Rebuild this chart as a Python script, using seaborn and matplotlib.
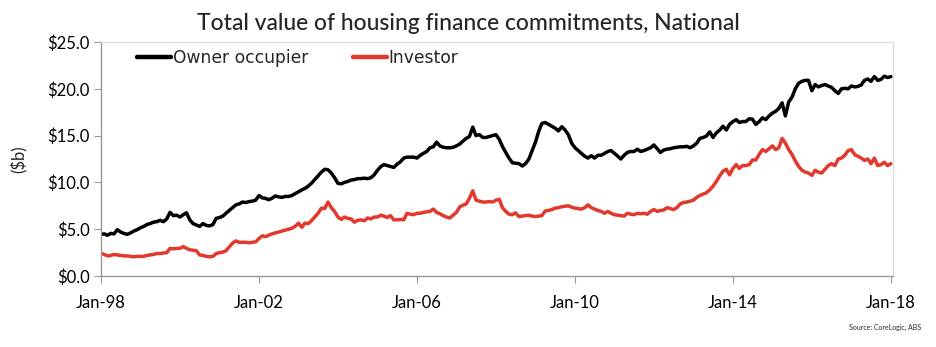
import numpy as np
import pandas as pd
import matplotlib
matplotlib.use("Agg")
import matplotlib.pyplot as plt
import seaborn as sns

# Monthly value of housing finance commitments ($b), Jan-1998 to Jan-2018
owner_occupier = [
    4.45, 4.5, 4.35, 4.55, 4.5, 4.95, 4.7, 4.55, 4.45, 4.6, 4.8, 4.95,          # 1998
    5.15, 5.3, 5.5, 5.6, 5.75, 5.8, 5.95, 5.8, 6.1, 6.8, 6.45, 6.5,             # 1999
    6.3, 6.55, 6.75, 6.0, 5.6, 5.45, 5.3, 5.6, 5.4, 5.35, 5.5, 6.15,            # 2000
    6.25, 6.4, 6.7, 7.0, 7.3, 7.6, 7.7, 7.9, 7.85, 7.95, 8.0, 8.1,              # 2001
    8.6, 8.35, 8.3, 8.15, 8.3, 8.55, 8.45, 8.4, 8.5, 8.5, 8.6, 8.8,             # 2002
    9.0, 9.2, 9.35, 9.6, 9.9, 10.3, 10.7, 11.1, 11.4, 11.35, 11.0, 10.5,        # 2003
    9.9, 9.85, 10.0, 10.1, 10.25, 10.3, 10.4, 10.4, 10.45, 10.4, 10.5, 10.8,    # 2004
    11.3, 11.7, 11.9, 11.8, 11.7, 11.6, 11.95, 12.2, 12.6, 12.7, 12.7, 12.7,    # 2005
    12.6, 12.9, 13.1, 13.3, 13.7, 13.8, 14.3, 13.9, 13.75, 13.7, 13.7, 13.75,   # 2006
    13.9, 14.1, 14.4, 14.7, 14.9, 15.9, 15.0, 15.1, 14.8, 14.8, 14.9, 15.0,     # 2007
    15.1, 14.6, 13.85, 13.2, 12.6, 12.1, 12.05, 12.0, 11.75, 12.0, 12.5, 13.4,  # 2008
    14.3, 15.5, 16.3, 16.4, 16.2, 16.0, 15.8, 15.5, 15.95, 15.6, 15.1, 14.2,    # 2009
    13.7, 13.4, 13.1, 12.8, 12.6, 12.85, 12.6, 12.9, 12.9, 13.1, 13.3, 13.4,    # 2010
    13.1, 12.8, 12.5, 12.9, 13.2, 13.3, 13.3, 13.55, 13.3, 13.4, 13.55, 13.7,   # 2011
    14.0, 13.6, 13.2, 13.45, 13.55, 13.6, 13.7, 13.75, 13.8, 13.8, 13.85, 13.7, # 2012
    13.9, 14.2, 14.7, 14.8, 14.95, 15.4, 14.8, 15.3, 15.6, 16.0, 15.6, 16.2,    # 2013
    16.5, 16.7, 16.4, 16.5, 16.5, 16.8, 16.75, 16.2, 16.5, 16.9, 16.7, 17.1,    # 2014
    17.4, 17.6, 17.9, 18.5, 17.1, 18.6, 19.1, 20.0, 20.6, 20.8, 20.9, 20.9,     # 2015
    19.8, 20.45, 20.2, 20.35, 20.45, 20.3, 20.15, 19.8, 19.5, 20.0, 20.05, 20.0,  # 2016
    20.3, 20.2, 20.25, 20.4, 20.9, 21.05, 20.8, 21.3, 20.9, 21.0, 21.35, 21.2,  # 2017
    21.3,                                                                        # Jan-2018
]

investor = [
    2.4, 2.3, 2.15, 2.2, 2.3, 2.25, 2.2, 2.15, 2.15, 2.1, 2.05, 2.1,            # 1998
    2.1, 2.1, 2.2, 2.25, 2.3, 2.4, 2.4, 2.45, 2.5, 2.95, 2.9, 2.95,             # 1999
    2.95, 3.15, 2.95, 2.8, 2.75, 2.7, 2.25, 2.2, 2.1, 2.05, 2.1, 2.4,           # 2000
    2.5, 2.55, 2.7, 3.1, 3.5, 3.75, 3.6, 3.6, 3.6, 3.55, 3.6, 3.65,             # 2001
    4.0, 4.3, 4.2, 4.35, 4.5, 4.6, 4.7, 4.8, 4.9, 5.0, 5.1, 5.3,                # 2002
    5.65, 5.2, 5.65, 5.6, 5.9, 6.3, 6.7, 7.25, 7.2, 7.9, 7.3, 6.9,              # 2003
    6.3, 6.05, 6.3, 6.15, 6.1, 5.75, 5.95, 6.0, 5.9, 6.2, 6.1, 6.3,             # 2004
    6.3, 6.5, 6.4, 6.25, 6.45, 6.0, 6.0, 6.05, 6.0, 6.7, 6.6, 6.55,             # 2005
    6.7, 6.7, 6.8, 6.85, 6.9, 7.15, 6.8, 6.65, 6.45, 6.3, 6.2, 6.5,             # 2006
    6.8, 7.4, 7.55, 7.7, 8.3, 9.1, 8.1, 8.0, 7.9, 7.9, 7.95, 7.9,               # 2007
    8.1, 8.2, 7.3, 6.9, 6.6, 6.55, 6.75, 6.35, 6.4, 6.45, 6.5, 6.4,             # 2008
    6.35, 6.4, 6.45, 6.95, 7.0, 7.1, 7.25, 7.3, 7.4, 7.45, 7.5, 7.35,           # 2009
    7.25, 7.2, 7.15, 7.3, 7.6, 7.3, 7.15, 7.0, 6.9, 6.7, 6.9, 6.7,              # 2010
    6.55, 6.5, 6.45, 6.4, 6.7, 6.6, 6.55, 6.7, 6.65, 6.7, 6.6, 6.9,             # 2011
    7.1, 6.9, 7.0, 7.05, 7.3, 7.2, 7.1, 7.3, 7.7, 7.85, 7.9, 8.0,               # 2012
    8.1, 8.4, 8.6, 8.75, 8.9, 9.2, 9.6, 10.1, 10.7, 11.2, 11.4, 10.8,           # 2013
    11.5, 11.9, 11.5, 11.8, 11.8, 11.9, 12.4, 12.4, 13.0, 13.5, 13.3, 13.6,     # 2014
    13.9, 13.5, 13.7, 14.7, 14.2, 13.5, 13.0, 12.3, 11.7, 11.3, 11.1, 11.0,     # 2015
    10.75, 11.3, 11.1, 11.0, 11.4, 11.8, 12.0, 11.8, 12.5, 12.6, 12.9, 13.4,    # 2016
    13.5, 12.95, 12.8, 12.6, 12.35, 12.5, 12.0, 12.6, 11.8, 11.9, 12.15, 11.8,  # 2017
    12.0,                                                                        # Jan-2018
]

months = pd.date_range("1998-01-01", periods=len(owner_occupier), freq="MS")
series_names = ["Owner occupier", "Investor"]
series_colors = ["#000000", "#E2392F"]
tick_dates = ["1998-01-01", "2002-01-01", "2006-01-01", "2010-01-01", "2014-01-01", "2018-01-01"]
tick_labels = ["Jan-98", "Jan-02", "Jan-06", "Jan-10", "Jan-14", "Jan-18"]
y_ticks = [0, 5, 10, 15, 20, 25]

df = pd.DataFrame({
    "month": np.concatenate([months, months]),
    "value": owner_occupier + investor,
    "series": [series_names[0]] * len(months) + [series_names[1]] * len(months),
})

sns.set_theme(style="white")
plt.rcParams["font.family"] = ["Lato", "DejaVu Sans"]

fig = plt.figure(figsize=(9.37, 3.47), dpi=100)
ax = fig.add_axes([0.1078, 0.2046, 0.8452, 0.6744])

sns.lineplot(data=df, x="month", y="value", hue="series",
             palette=dict(zip(series_names, series_colors)),
             linewidth=2.5, ax=ax, legend=True)

ax.set_xlim(pd.Timestamp("1998-01-01"), pd.Timestamp("2018-01-20"))
ax.set_ylim(0, 25)
ax.set_xticks(pd.to_datetime(tick_dates))
ax.set_xticklabels(tick_labels, fontsize=12)
ax.set_yticks(y_ticks)
ax.set_yticklabels([f"${v:.1f}" for v in y_ticks], fontsize=12)
ax.tick_params(axis="both", which="both", direction="out", length=5,
               width=0.8, color="#999999", labelcolor="black", bottom=True, left=True)
ax.tick_params(axis="x", pad=9)
ax.tick_params(axis="y", pad=3)
ax.set_xlabel("")
ax.set_ylabel("($b)", fontsize=12, labelpad=14)

for side in ["left", "bottom"]:
    ax.spines[side].set_color("#999999")
    ax.spines[side].set_linewidth(1.0)
for side in ["top", "right"]:
    ax.spines[side].set_color("#DDDDDD")
    ax.spines[side].set_linewidth(1.0)

leg = ax.legend(loc="upper left", bbox_to_anchor=(0.026, 1.037), ncol=2, frameon=False,
                handlelength=2.0, handletextpad=0.1, columnspacing=2.6,
                prop={"family": ["DejaVu Sans"], "size": 12.3})
for line in leg.get_lines():
    line.set_linewidth(3.2)

fig.suptitle("Total value of housing finance commitments, National",
             x=0.5, y=0.962, fontsize=16.5, fontweight="medium", va="top")
fig.text(0.983, 0.045, "Source: CoreLogic, ABS", fontsize=5, ha="right", va="bottom")

fig.savefig("out.png", dpi=100)
